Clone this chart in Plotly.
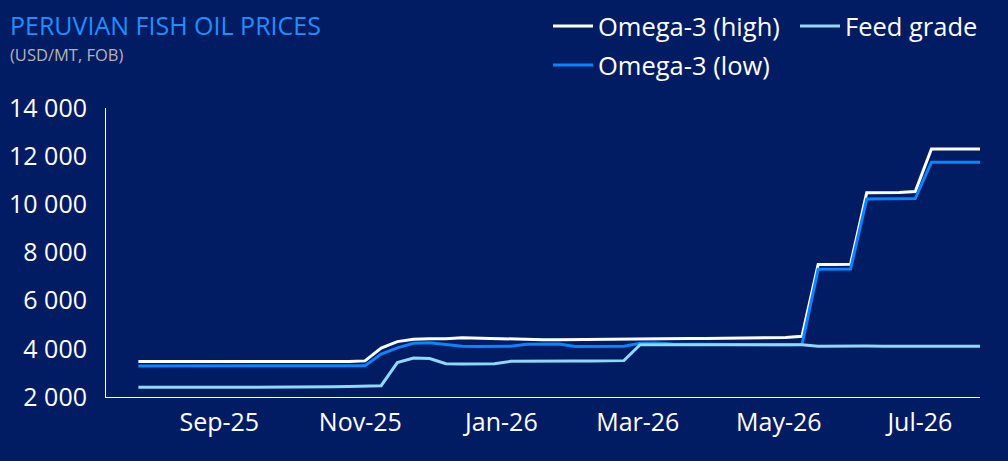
import plotly.graph_objects as go
import pandas as pd

dates = pd.date_range("2025-07-28", periods=53, freq="7D")

omega3_high = [3470, 3470, 3480, 3480, 3470, 3470, 3470, 3480, 3480, 3470,
               3470, 3460, 3460, 3470, 3500, 4030, 4300, 4400, 4420, 4420,
               4460, 4440, 4440, 4420, 4370, 4380, 4380, 4390, 4380, 4390,
               4390, 4430, 4440, 4440, 4430, 4430, 4440, 4440, 4440, 4440,
               4470, 4520, 7500, 7500, 7510, 10480, 10480, 10490, 10530, 12300,
               12300, 12300, 12300]

omega3_low = [3290, 3290, 3290, 3290, 3290, 3290, 3280, 3290, 3290, 3290,
              3280, 3280, 3280, 3290, 3300, 3780, 4040, 4230, 4250, 4180,
              4110, 4100, 4100, 4110, 4190, 4200, 4200, 4100, 4100, 4100,
              4110, 4230, 4240, 4200, 4190, 4180, 4170, 4170, 4170, 4170,
              4170, 4180, 7300, 7300, 7310, 10220, 10220, 10230, 10240, 11750,
              11750, 11750, 11750]

feed_grade = [2410, 2400, 2400, 2400, 2400, 2400, 2400, 2420, 2410, 2410,
              2410, 2430, 2430, 2440, 2450, 2470, 3430, 3620, 3600, 3380,
              3370, 3370, 3380, 3480, 3490, 3480, 3480, 3490, 3490, 3500,
              3510, 4170, 4170, 4170, 4160, 4160, 4160, 4150, 4150, 4160,
              4160, 4170, 4110, 4120, 4120, 4120, 4110, 4110, 4120, 4120,
              4110, 4110, 4110]

names = ["Omega-3 (high)", "Omega-3 (low)", "Feed grade"]
colors = ["#FFFFFF", "#0A84FF", "#8FD8F6"]

BG = "#021C64"
FONT = "Open Sans"

fig = go.Figure()
fig.add_trace(go.Scatter(x=dates, y=omega3_high, name=names[0], mode="lines",
                         line=dict(color=colors[0], width=3), legend="legend"))
fig.add_trace(go.Scatter(x=dates, y=omega3_low, name=names[1], mode="lines",
                         line=dict(color=colors[1], width=3), legend="legend2"))
fig.add_trace(go.Scatter(x=dates, y=feed_grade, name=names[2], mode="lines",
                         line=dict(color=colors[2], width=3), legend="legend"))

L, R, T, B = 106, 28, 108, 64
W, H = 1008, 461
ph = H - T - B
pw = W - L - R

def py(y):
    return (H - B - y) / ph

def px(x):
    return (x - L) / pw

LEG_FONT = dict(family=FONT, size=25.5, color="#FFFFFF")
TICK_FONT = dict(family=FONT, size=25, color="#FFFFFF")

fig.update_layout(
    width=W, height=H,
    margin=dict(l=L, r=R, t=T, b=B, pad=0, autoexpand=False),
    paper_bgcolor=BG, plot_bgcolor=BG,
    font=dict(family=FONT, color="#FFFFFF", size=22),
    separators=". ",
    legend=dict(orientation="h", xref="container", yref="container",
                x=548 / W, y=1 - 3 / H, xanchor="left", yanchor="top",
                entrywidth=192, entrywidthmode="pixels",
                font=LEG_FONT, bgcolor="rgba(0,0,0,0)", itemwidth=40),
    legend2=dict(orientation="h", xref="container", yref="container",
                 x=548 / W, y=1 - 42 / H, xanchor="left", yanchor="top",
                 font=LEG_FONT, bgcolor="rgba(0,0,0,0)", itemwidth=40),
    xaxis=dict(type="date", range=["2025-07-14", "2026-07-27"],
               tick0="2025-09-01", dtick="M2", tickformat="%b-%y",
               showgrid=False, zeroline=False, showline=True,
               linecolor="#FFFFFF", linewidth=1, ticks="",
               tickfont=TICK_FONT, ticklabelstandoff=3),
    yaxis=dict(range=[2000, 14000], dtick=2000, tickformat=",d",
               showgrid=False, zeroline=False, showline=True,
               linecolor="#FFFFFF", linewidth=1, ticks="",
               tickfont=TICK_FONT, ticklabelstandoff=13),
    annotations=[
        dict(text="PERUVIAN FISH OIL PRICES", xref="paper", yref="paper",
             x=px(8), y=py(25), xanchor="left", yanchor="middle",
             showarrow=False, font=dict(family=FONT, size=25, color="#1E8FFF")),
        dict(text="(USD/MT, FOB)", xref="paper", yref="paper",
             x=px(8), y=py(54), xanchor="left", yanchor="middle",
             showarrow=False, font=dict(family=FONT, size=16.5, color="#B4B4B4")),
    ],
)

fig.write_html("out.html", config={"displayModeBar": False},
               post_script="document.body.style.margin='0';")
